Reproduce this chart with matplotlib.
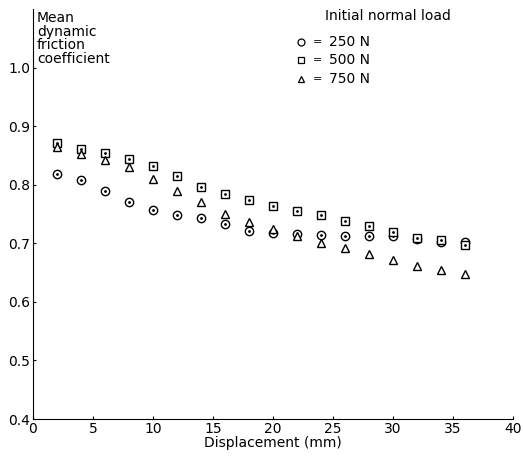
import matplotlib
matplotlib.use("Agg")
import matplotlib.pyplot as plt

displacement = [2, 4, 6, 8, 10, 12, 14, 16, 18, 20, 22, 24, 26, 28, 30, 32, 34, 36]
load_250 = [0.818, 0.808, 0.790, 0.770, 0.757, 0.748, 0.743, 0.733, 0.722, 0.717,
            0.716, 0.714, 0.712, 0.712, 0.712, 0.707, 0.703, 0.702]
load_500 = [0.872, 0.862, 0.855, 0.845, 0.832, 0.815, 0.797, 0.785, 0.774, 0.764,
            0.755, 0.748, 0.738, 0.729, 0.720, 0.709, 0.705, 0.698]
load_750 = [0.865, 0.853, 0.843, 0.830, 0.810, 0.790, 0.770, 0.750, 0.737, 0.725,
            0.713, 0.701, 0.693, 0.682, 0.672, 0.662, 0.655, 0.648]
legend_labels = ["250 N", "500 N", "750 N"]
x_ticks = [0, 5, 10, 15, 20, 25, 30, 35, 40]
y_ticks = [0.4, 0.5, 0.6, 0.7, 0.8, 0.9, 1.0]

fig = plt.figure(figsize=(5.23, 4.63), dpi=100)
ax = fig.add_axes([0.063, 0.095, 0.918, 0.885])

ms = 6
ax.plot(displacement, load_250, linestyle='none', marker='o', ms=ms, mfc='white', mec='black', mew=1.0)
ax.plot(displacement, load_250, linestyle='none', marker='.', ms=2, color='black')
ax.plot(displacement, load_500, linestyle='none', marker='s', ms=ms - 0.5, mfc='white', mec='black', mew=1.0)
ax.plot(displacement, load_500, linestyle='none', marker='.', ms=2, color='black')
ax.plot(displacement, load_750, linestyle='none', marker='^', ms=ms, mfc='white', mec='black', mew=1.0)

ax.set_xlim(0, 40)
ax.set_ylim(0.4, 1.1)
ax.set_xticks(x_ticks)
ax.set_yticks(y_ticks)
ax.set_yticklabels([f"{v:.1f}" for v in y_ticks])
ax.spines['top'].set_visible(False)
ax.spines['right'].set_visible(False)
ax.tick_params(axis='both', direction='in', length=2, labelsize=10, pad=2)
ax.set_xlabel("Displacement (mm)", fontsize=10, labelpad=0)

ax.text(0.008, 0.995, "Mean\ndynamic\nfriction\ncoefficient", transform=ax.transAxes,
        ha='left', va='top', fontsize=10, linespacing=0.95)

# legend
fig.text(0.622, 0.965, "Initial normal load", ha='left', va='center', fontsize=10)
markers = [('o', 6), ('s', 5.5), ('^', 6)]
ys = [0.91, 0.87, 0.83]
for (m, s), yy, lab in zip(markers, ys, legend_labels):
    fig.lines.append(plt.Line2D([0.575], [yy], marker=m, ms=s - 1, mfc='white', mec='black',
                                mew=0.9, transform=fig.transFigure, linestyle='none'))
    fig.text(0.598, yy, "=", ha='left', va='center', fontsize=8)
    fig.text(0.63, yy, lab, ha='left', va='center', fontsize=10)

fig.savefig("out.png", dpi=100)
